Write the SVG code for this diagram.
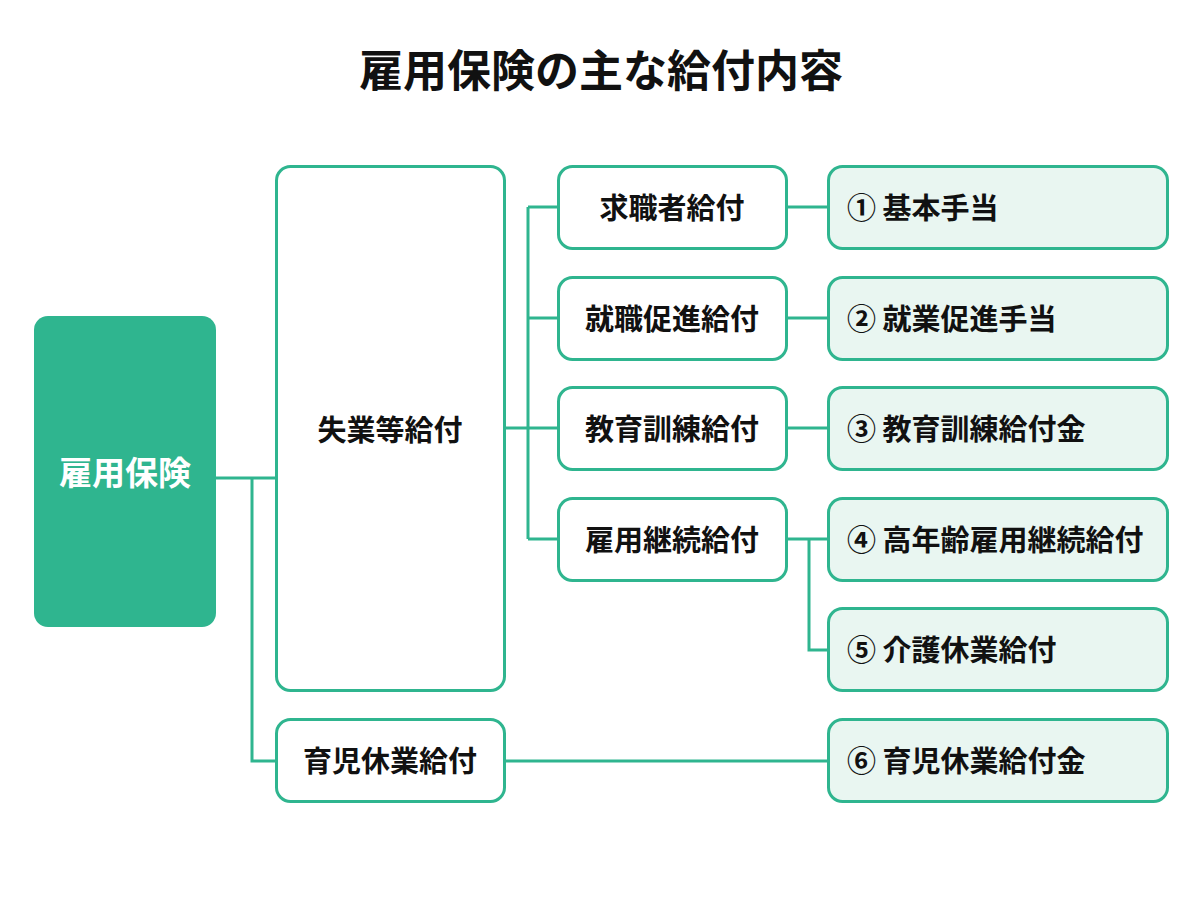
<svg xmlns="http://www.w3.org/2000/svg" width="1200" height="900" viewBox="0 0 1200 900">
<style>
text{font-family:"Noto Sans CJK JP","Noto Sans",sans-serif;font-weight:700;fill:#111}
.box{fill:#fff;stroke:#2fb58f;stroke-width:3}
.leaf{fill:#e9f6f1;stroke:#2fb58f;stroke-width:3}
.c{text-anchor:middle;dominant-baseline:central;font-size:29px}
.l{dominant-baseline:central;font-size:29px}
#connectors path{fill:none;stroke:#2fb58f;stroke-width:3}
</style>
<rect width="1200" height="900" fill="#fff"/>
<text x="601" y="68" text-anchor="middle" dominant-baseline="central" font-size="44">雇用保険の主な給付内容</text>
<g id="connectors">
<path d="M216 478H276M252 478V761H276"/>
<path d="M504 428H528M528 207V539M528 207H558M528 318H558M528 428H558M528 539H558"/>
<path d="M787 207H828M787 318H828M787 428H828M787 539H828M809 539V650H828"/>
<path d="M504 761H828"/>
</g>
<g id="root"><rect x="34" y="316" width="182" height="311" rx="14" fill="#2fb58f"/><text class="c" x="125" y="471" style="fill:#fff;font-size:33px">雇用保険</text></g>
<g id="shitsugyo"><rect class="box" x="276.5" y="166.5" width="228" height="524" rx="14"/><text class="c" x="390" y="428">失業等給付</text></g>
<g id="ikuji"><rect class="box" x="276.5" y="719.5" width="228" height="82" rx="14"/><text class="c" x="390" y="759">育児休業給付</text></g>
<g id="kyushoku"><rect class="box" x="558.5" y="166.5" width="228" height="82" rx="14"/><text class="c" x="672" y="206">求職者給付</text></g>
<g id="shushoku"><rect class="box" x="558.5" y="277.5" width="228" height="82" rx="14"/><text class="c" x="672" y="317">就職促進給付</text></g>
<g id="kyoiku"><rect class="box" x="558.5" y="387.5" width="228" height="82" rx="14"/><text class="c" x="672" y="427">教育訓練給付</text></g>
<g id="keizoku"><rect class="box" x="558.5" y="498.5" width="228" height="82" rx="14"/><text class="c" x="672" y="538">雇用継続給付</text></g>
<g id="r1"><rect class="leaf" x="828.5" y="166.5" width="339" height="82" rx="14"/><text class="l" x="847" y="206">① 基本手当</text></g>
<g id="r2"><rect class="leaf" x="828.5" y="277.5" width="339" height="82" rx="14"/><text class="l" x="847" y="317">② 就業促進手当</text></g>
<g id="r3"><rect class="leaf" x="828.5" y="387.5" width="339" height="82" rx="14"/><text class="l" x="847" y="427">③ 教育訓練給付金</text></g>
<g id="r4"><rect class="leaf" x="828.5" y="498.5" width="339" height="82" rx="14"/><text class="l" x="847" y="538">④ 高年齢雇用継続給付</text></g>
<g id="r5"><rect class="leaf" x="828.5" y="608.5" width="339" height="82" rx="14"/><text class="l" x="847" y="648">⑤ 介護休業給付</text></g>
<g id="r6"><rect class="leaf" x="828.5" y="719.5" width="339" height="82" rx="14"/><text class="l" x="847" y="759">⑥ 育児休業給付金</text></g>
</svg>
